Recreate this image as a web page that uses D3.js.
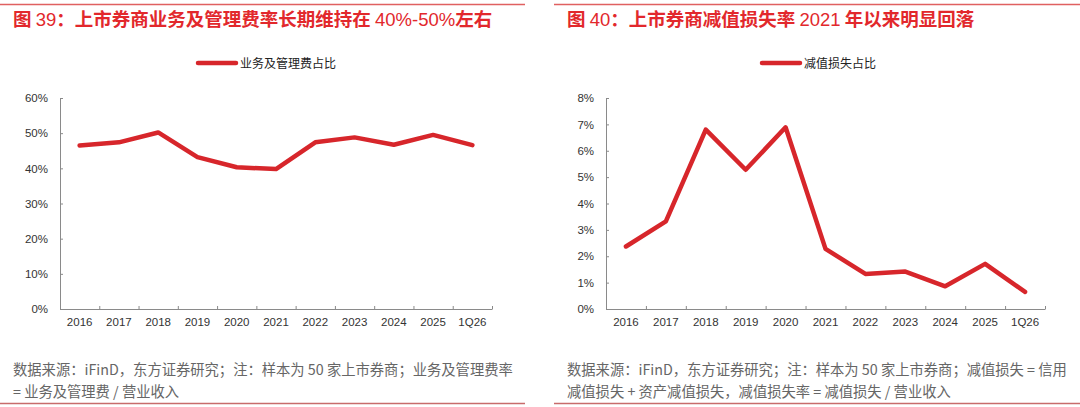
<!DOCTYPE html>
<html>
<head>
<meta charset="utf-8">
<script src="https://cdn.jsdelivr.net/npm/d3@7"></script>
<style>
  body { margin: 0; background: #fff; }
  svg text { font-family: "Liberation Sans", "Noto Sans CJK SC", sans-serif; }
  .cjk { font-family: "Noto Sans CJK SC", "Liberation Sans", sans-serif; }
</style>
</head>
<body>
<svg id="chart" width="1080" height="407"></svg>
<script>
const categories = ["2016", "2017", "2018", "2019", "2020", "2021", "2022", "2023", "2024", "2025", "1Q26"];
const expenseRatio = [46.5, 47.4, 50.2, 43.2, 40.3, 39.8, 47.4, 48.8, 46.7, 49.5, 46.6];
const impairmentRatio = [2.37, 3.32, 6.80, 5.28, 6.89, 2.28, 1.33, 1.42, 0.86, 1.71, 0.65];
const expenseTicks = [0, 10, 20, 30, 40, 50, 60];
const impairmentTicks = [0, 1, 2, 3, 4, 5, 6, 7, 8];

const titles = ["图 39：上市券商业务及管理费率长期维持在 40%-50%左右", "图 40：上市券商减值损失率 2021 年以来明显回落"];
const legends = ["业务及管理费占比", "减值损失占比"];
const notes = [
  ["数据来源：iFinD，东方证券研究；注：样本为 50 家上市券商；业务及管理费率", "= 业务及管理费 / 营业收入"],
  ["数据来源：iFinD，东方证券研究；注：样本为 50 家上市券商；减值损失 = 信用", "减值损失 + 资产减值损失，减值损失率 = 减值损失 / 营业收入"]
];

const red = "#d7262b";
const svg = d3.select("#chart");

function panel(opt) {
  const g = svg.append("g");

  // frame rules
  g.append("line").attr("x1", opt.ruleX0).attr("x2", opt.ruleX1).attr("y1", 4.5).attr("y2", 4.5)
    .attr("stroke", "#e06060").attr("stroke-width", 1.5);
  g.append("line").attr("x1", opt.ruleX0).attr("x2", opt.ruleX1).attr("y1", 403.5).attr("y2", 403.5)
    .attr("stroke", "#c86b6b").attr("stroke-width", 1.5);

  // title: chinese bold, digits regular
  const t = g.append("text").attr("x", opt.textX).attr("y", 26)
    .attr("font-size", 18.5).attr("fill", "#e2282c");
  opt.title.split(/([0-9%\-]+)/).filter(s => s).forEach(s => {
    const latin = /^[0-9%\-]+$/.test(s);
    t.append("tspan")
      .attr("font-family", latin ? "Liberation Sans" : "Noto Sans CJK SC")
      .attr("font-weight", latin ? "normal" : "bold")
      .text(s);
  });

  opt.note.forEach((s, i) => {
    g.append("text").attr("class", "cjk")
      .attr("x", opt.textX).attr("y", 375 + i * 22)
      .attr("font-size", 14.3).attr("fill", "#666")
      .text(s);
  });

  const x = d3.scaleBand().domain(categories).range([opt.x0, opt.x1]).padding(0);
  const xb = d3.scaleLinear().domain([0, categories.length]).range([opt.x0, opt.x1]);
  const y = d3.scaleLinear().domain([0, d3.max(opt.ticks)]).range([309, 98]);

  // legend
  const lx = opt.legendX;
  g.append("line").attr("x1", lx).attr("x2", lx + 38).attr("y1", 63).attr("y2", 63)
    .attr("stroke", red).attr("stroke-width", 4.5).attr("stroke-linecap", "round");
  g.append("text").attr("class", "cjk").attr("x", lx + 42).attr("y", 67.5)
    .attr("font-size", 12).attr("fill", "#222").text(opt.legend);

  // y axis
  const ya = g.append("g").attr("transform", `translate(${opt.x0},0)`)
    .call(d3.axisLeft(y).tickValues(opt.ticks).tickSizeInner(-3).tickSizeOuter(0)
      .tickPadding(12).tickFormat(d => d + "%"));
  ya.selectAll("text").attr("font-size", 11.5).attr("fill", "#333");

  // x axis: boundary ticks + centered labels
  g.append("g").attr("transform", "translate(0,309)")
    .call(d3.axisBottom(xb).tickValues(d3.range(1, categories.length + 1)).tickSizeInner(-3).tickSizeOuter(0).tickFormat(""));
  const xl = g.append("g").attr("transform", "translate(0,309)")
    .call(d3.axisBottom(x).tickSize(0).tickPadding(9));
  xl.select(".domain").remove();
  xl.selectAll("text").attr("font-size", 11.5).attr("fill", "#333");

  g.selectAll(".domain, .tick line").attr("stroke", "#8a8a8a");

  const line = d3.line()
    .x((d, i) => x(categories[i]) + x.bandwidth() / 2)
    .y(d => y(d));
  g.append("path").datum(opt.values)
    .attr("d", line).attr("fill", "none")
    .attr("stroke", red).attr("stroke-width", 4.5)
    .attr("stroke-linejoin", "round").attr("stroke-linecap", "round");
}

panel({
  ruleX0: 0, ruleX1: 525, textX: 13, title: titles[0], note: notes[0],
  x0: 60, x1: 492, ticks: expenseTicks, values: expenseRatio,
  legendX: 198, legend: legends[0]
});
panel({
  ruleX0: 554, ruleX1: 1080, textX: 567, title: titles[1], note: notes[1],
  x0: 606, x1: 1045, ticks: impairmentTicks, values: impairmentRatio,
  legendX: 762, legend: legends[1]
});
</script>
</body>
</html>
